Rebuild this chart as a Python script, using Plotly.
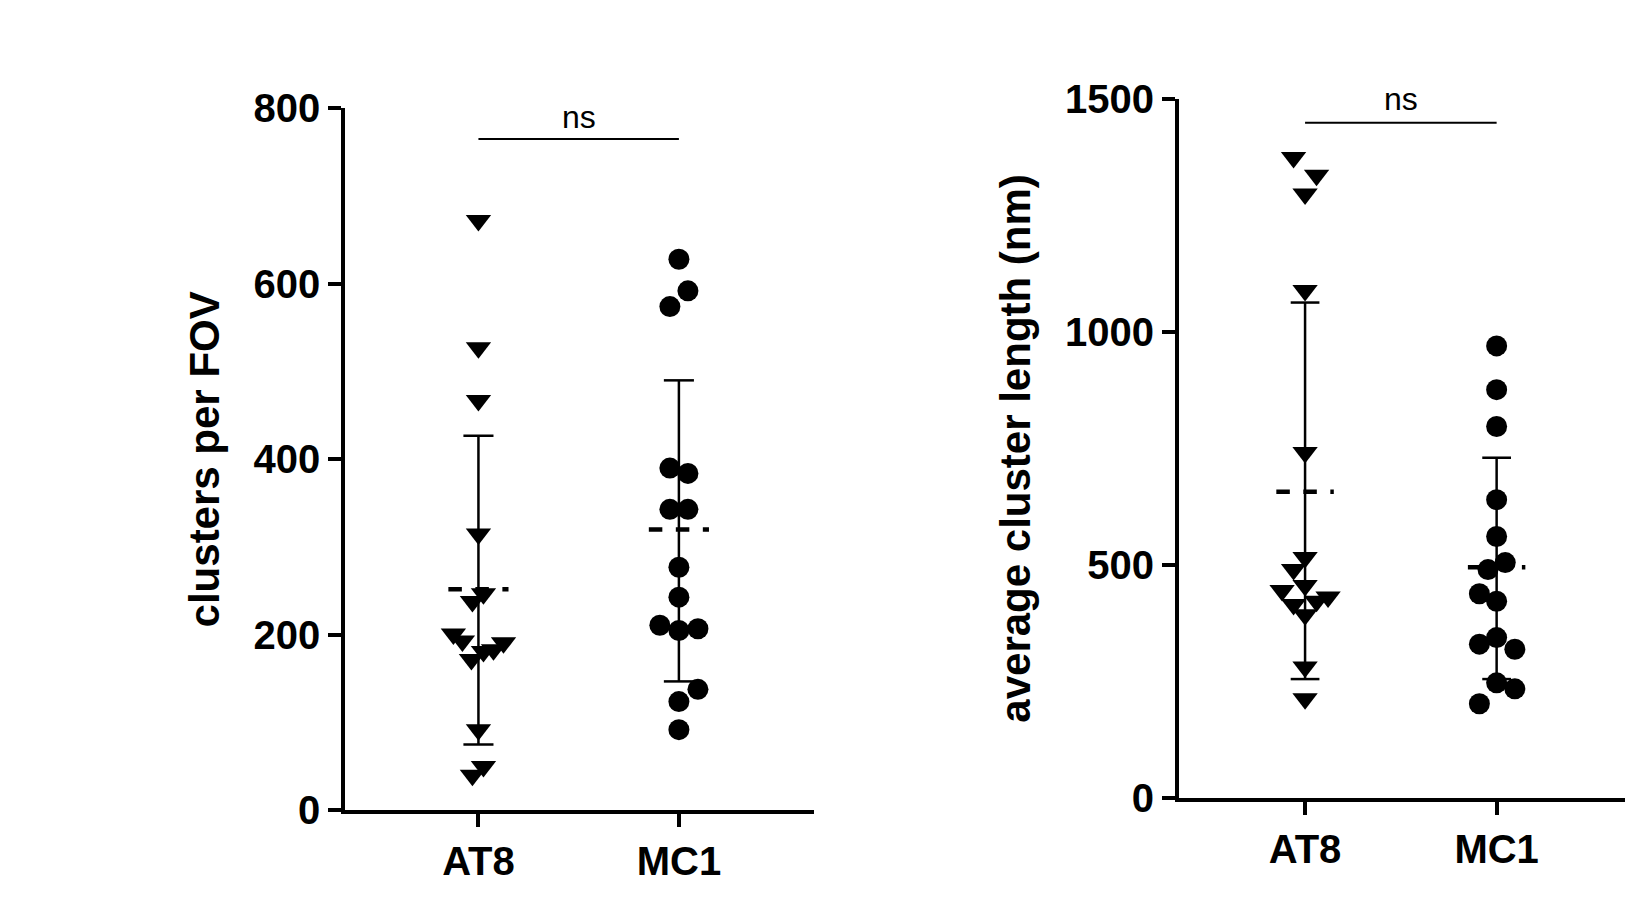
import plotly.graph_objects as go

groups = ["AT8", "MC1"]
# left panel: clusters per FOV
l_at8_x = [0, 0, 0, 0, -0.03, 0.025, -0.125, -0.08, -0.035, 0.025, 0.075, 0.125, 0, -0.03, 0.025]
l_at8_y = [672, 527, 467, 315, 238, 247, 201, 193, 172, 181, 183, 191, 92, 40, 50]
l_mc1_x = [0, 0.045, -0.045, -0.045, 0.045, -0.045, 0.045, 0, 0, -0.095, 0, 0.095, 0, 0.095, 0]
l_mc1_y = [628, 592, 574, 390, 384, 343, 343, 277, 243, 211, 205, 207, 124, 138, 92]
l_mean = [252, 320]
l_sd_hi = [427, 490]
l_sd_lo = [75, 147]
# right panel: average cluster length (nm)
r_at8_x = [-0.06, 0, 0.06, 0, 0, 0, -0.06, -0.12, -0.06, 0, 0.06, 0.12, 0, 0, 0]
r_at8_y = [1374, 1296, 1336, 1089, 741, 516, 490, 445, 415, 456, 422, 431, 393, 281, 213]
r_mc1_x = [0, 0, 0, 0, 0, -0.045, 0.045, -0.09, 0, -0.09, 0, 0.095, -0.09, 0, 0.095]
r_mc1_y = [970, 876, 797, 640, 561, 490, 505, 438, 422, 330, 344, 319, 202, 247, 234]
r_mean = [657, 495]
r_sd_hi = [1063, 730]
r_sd_lo = [255, 255]

FONT = "Liberation Sans, Arial"
fig = go.Figure()

def panel(xa, ya, at8x, at8y, mc1x, mc1y, mean, hi, lo):
    fig.add_trace(go.Scatter(x=[1 + d for d in at8x], y=at8y, mode="markers", xaxis=xa, yaxis=ya,
                             marker=dict(symbol="triangle-down", size=22, color="black"), showlegend=False))
    fig.add_trace(go.Scatter(x=[2 + d for d in mc1x], y=mc1y, mode="markers", xaxis=xa, yaxis=ya,
                             marker=dict(symbol="circle", size=21, color="black"), showlegend=False))
    for i, xc in enumerate([1, 2]):
        fig.add_trace(go.Scatter(x=[xc, xc], y=[lo[i], hi[i]], mode="lines", xaxis=xa, yaxis=ya,
                                 line=dict(color="black", width=2.5), showlegend=False))
        for v in (lo[i], hi[i]):
            fig.add_trace(go.Scatter(x=[xc - 0.075, xc + 0.075], y=[v, v], mode="lines", xaxis=xa, yaxis=ya,
                                     line=dict(color="black", width=2.5), showlegend=False))
        fig.add_trace(go.Scatter(x=[xc - 0.15, xc + 0.15], y=[mean[i], mean[i]], mode="lines", xaxis=xa, yaxis=ya,
                                 line=dict(color="black", width=4.5, dash="dash"), showlegend=False))

panel("x", "y", l_at8_x, l_at8_y, l_mc1_x, l_mc1_y, l_mean, l_sd_hi, l_sd_lo)
panel("x2", "y2", r_at8_x, r_at8_y, r_mc1_x, r_mc1_y, r_mean, r_sd_hi, r_sd_lo)

# significance bars
fig.add_trace(go.Scatter(x=[1, 2], y=[765, 765], mode="lines", xaxis="x", yaxis="y",
                         line=dict(color="black", width=2), showlegend=False, cliponaxis=False))
fig.add_trace(go.Scatter(x=[1, 2], y=[1449, 1449], mode="lines", xaxis="x2", yaxis="y2",
                         line=dict(color="black", width=2), showlegend=False, cliponaxis=False))
fig.add_annotation(x=1.5, y=0.922, xref="x", yref="paper", text="ns", showarrow=False,
                   font=dict(family=FONT, size=32, color="black"))
fig.add_annotation(x=1.5, y=0.943, xref="x2", yref="paper", text="ns", showarrow=False,
                   font=dict(family=FONT, size=32, color="black"))

axcommon = dict(showline=True, linecolor="black", linewidth=4, ticks="outside", ticklen=13,
                tickwidth=4, tickcolor="black", showgrid=False, zeroline=False,
                tickfont=dict(family=FONT, size=40, color="black", weight="bold"))
fig.update_layout(
    width=1647, height=902, plot_bgcolor="white", paper_bgcolor="white",
    margin=dict(l=0, r=0, t=0, b=0),
    xaxis=dict(domain=[0.2047, 0.4895], range=[0.335, 2.675], tickvals=[1, 2], ticktext=groups,
               anchor="y", **axcommon),
    yaxis=dict(domain=[0.0904, 0.9088], range=[0, 800], tickvals=[0, 200, 400, 600, 800], anchor="x",
               title=dict(text="clusters per FOV", standoff=22,
                          font=dict(family=FONT, size=42, color="black", weight="bold")),
               **axcommon),
    xaxis2=dict(domain=[0.711, 0.982], range=[0.342, 2.672], tickvals=[1, 2], ticktext=groups,
                anchor="y2", **axcommon),
    yaxis2=dict(domain=[0.105, 0.9197], range=[0, 1500], tickvals=[0, 500, 1000, 1500], anchor="x2",
                title=dict(text="average cluster length (nm)", standoff=22,
                           font=dict(family=FONT, size=42, color="black", weight="bold")),
                **axcommon),
)
fig.write_html("out.html")
